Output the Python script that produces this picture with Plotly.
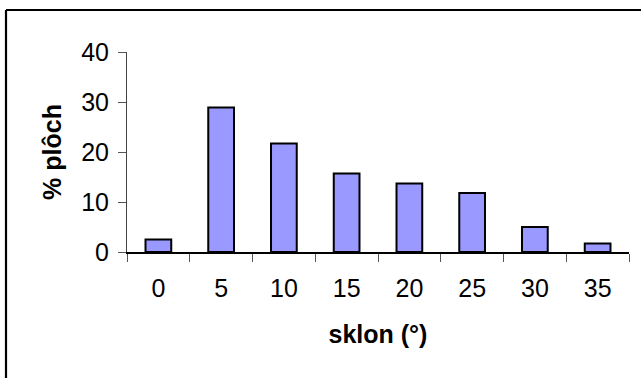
import plotly.graph_objects as go

# Slope classes (degrees) and share of area in each class (%)
sklon = ["0", "5", "10", "15", "20", "25", "30", "35"]
plochy = [2.5, 28.9, 21.7, 15.7, 13.7, 11.8, 5.0, 1.7]
y_ticks = [0, 10, 20, 30, 40]

W, H = 641, 378
ML, MR, MT, MB = 127, 12, 52, 126
PW, PH = W - ML - MR, H - MT - MB

FONT = "Liberation Sans, Arial, sans-serif"

fig = go.Figure(
    go.Bar(
        x=sklon,
        y=plochy,
        marker=dict(color="#9999FF", line=dict(color="black", width=2)),
        hoverinfo="x+y",
    )
)

# outer frame of the chart area (only top and left edges fall inside the page)
fx0 = (6 - ML) / PW
fy1 = 1 + (MT - 10) / PH
fig.add_shape(type="line", xref="paper", yref="paper",
              x0=fx0, x1=(W + 10 - ML) / PW, y0=fy1, y1=fy1,
              line=dict(color="black", width=2.2))
fig.add_shape(type="line", xref="paper", yref="paper",
              x0=fx0, x1=fx0, y0=fy1, y1=-(MB + 10) / PH,
              line=dict(color="black", width=2.2))

fig.update_layout(
    width=W,
    height=H,
    margin=dict(l=ML, r=MR, t=MT, b=MB),
    paper_bgcolor="white",
    plot_bgcolor="white",
    bargap=0.59,
    showlegend=False,
    font=dict(family=FONT, size=25, color="black"),
    xaxis=dict(
        type="category",
        tickson="boundaries",
        ticks="outside",
        ticklen=8,
        tickwidth=1,
        tickcolor="#555555",
        showline=True,
        linecolor="black",
        linewidth=1.5,
        showgrid=False,
        tickfont=dict(size=25),
        ticklabelstandoff=13,
        title=dict(text="<b>sklon (°)</b>", font=dict(size=25), standoff=25),
    ),
    yaxis=dict(
        range=[0, 40],
        tickvals=y_ticks,
        ticks="outside",
        ticklen=8,
        tickwidth=1,
        tickcolor="#555555",
        showline=True,
        linecolor="#444444",
        linewidth=1,
        showgrid=False,
        zeroline=False,
        tickfont=dict(size=25),
        ticklabelstandoff=4,
        title=dict(text="<b>% plôch</b>", font=dict(size=25), standoff=12),
    ),
)

fig.write_html("out.html")
